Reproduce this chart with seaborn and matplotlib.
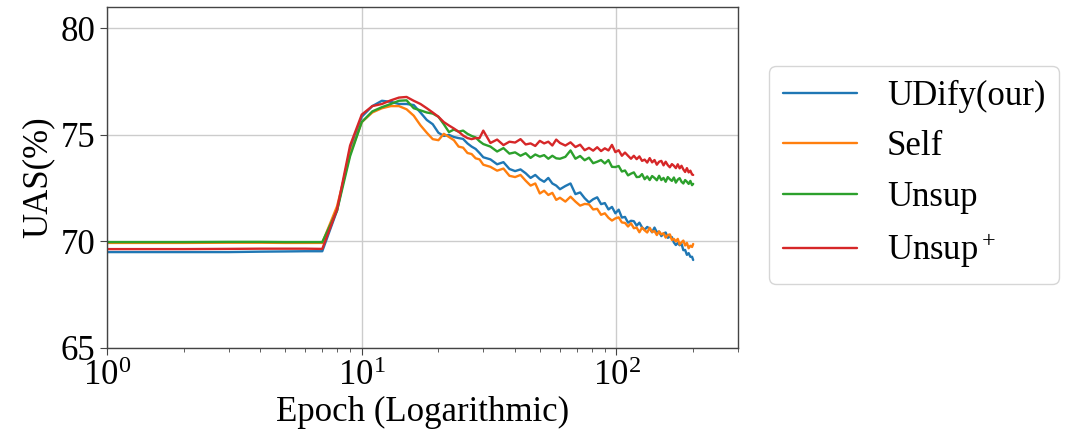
import pandas as pd
import matplotlib
matplotlib.use('Agg')
import matplotlib.pyplot as plt
import seaborn as sns


epochs = list(range(1, 31)) + list(range(32, 61, 2)) + list(range(63, 199, 3)) + [200]

udify = [69.50, 69.50, 69.50, 69.52, 69.53, 69.54, 69.54, 71.45, 74.30, 75.85,
         76.35, 76.60, 76.55, 76.45, 76.45, 76.40, 76.05, 75.70, 75.50, 75.10,
         74.95, 75.00, 74.90, 74.85, 74.81, 74.60, 74.45, 74.34, 74.15, 73.95,
         73.85, 73.62, 73.72, 73.40, 73.30, 73.38, 73.20, 72.98, 73.12, 72.92,
         72.80, 72.98, 72.72, 72.62, 72.45,
         72.60, 72.72, 72.22, 72.30, 72.03, 71.83, 71.98, 72.07, 71.75, 71.80,
         71.50, 71.62, 71.32, 71.49, 71.12, 71.15, 70.88, 70.97, 70.95, 70.74,
         70.88, 70.66, 70.55, 70.68, 70.60, 70.43, 70.65, 70.43, 70.46, 70.25,
         70.37, 70.42, 70.17, 70.22, 70.20, 69.95, 69.83, 69.93, 69.82, 69.89,
         69.59, 69.60, 69.37, 69.45, 69.28, 69.28, 69.13]

self_ = [69.93, 69.93, 69.94, 69.94, 69.93, 69.93, 69.93, 71.65, 74.10, 75.60,
         76.05, 76.25, 76.35, 76.35, 76.20, 75.90, 75.45, 75.10, 74.80, 74.75,
         75.05, 74.90, 74.75, 74.45, 74.40, 74.15, 74.10, 73.90, 73.85, 73.60,
         73.50, 73.32, 73.42, 73.08, 73.02, 73.12, 72.85, 72.62, 72.72, 72.25,
         72.38, 72.18, 72.28, 71.95, 72.05,
         71.87, 72.10, 71.87, 71.68, 71.76, 71.74, 71.50, 71.53, 71.25, 71.32,
         71.11, 70.98, 71.08, 71.13, 70.89, 70.87, 70.70, 70.85, 70.62, 70.65,
         70.43, 70.65, 70.52, 70.42, 70.64, 70.44, 70.49, 70.30, 70.47, 70.33,
         70.38, 70.18, 70.30, 70.33, 70.07, 70.12, 70.00, 70.12, 69.85, 69.96,
         70.04, 69.81, 69.93, 69.68, 69.80, 69.74, 69.88]

unsup = [69.97, 69.97, 69.98, 69.98, 69.97, 69.97, 69.97, 71.45, 74.00, 75.60,
         76.10, 76.30, 76.45, 76.60, 76.62, 76.25, 76.15, 76.05, 76.00, 75.85,
         75.50, 75.13, 75.25, 75.15, 75.20, 75.05, 74.95, 74.88, 74.70, 74.57,
         74.45, 74.22, 74.38, 74.12, 74.18, 74.02, 74.14, 73.92, 74.08, 73.98,
         74.05, 73.88, 74.02, 73.90, 73.88,
         73.97, 74.27, 73.88, 74.01, 73.81, 73.93, 73.67, 73.74, 73.82, 73.66,
         73.82, 73.50, 73.49, 73.54, 73.28, 73.33, 73.10, 73.18, 73.24, 73.02,
         73.03, 73.16, 72.92, 73.05, 72.88, 73.07, 72.98, 72.87, 73.08, 72.88,
         72.98, 72.80, 73.02, 72.92, 72.84, 73.00, 72.76, 72.90, 72.97, 72.80,
         72.72, 72.88, 72.80, 72.70, 72.84, 72.64, 72.70]

unsup_plus = [69.64, 69.64, 69.65, 69.66, 69.66, 69.66, 69.65, 71.50, 74.50, 75.95,
              76.35, 76.45, 76.62, 76.75, 76.78, 76.60, 76.45, 76.25, 76.05, 75.85,
              75.60, 75.44, 75.30, 75.15, 74.97, 74.85, 74.80, 74.85, 74.85, 75.20,
              74.62, 74.78, 74.52, 74.68, 74.64, 74.80, 74.55, 74.60, 74.48, 74.72,
              74.60, 74.68, 74.50, 74.78, 74.62,
              74.50, 74.65, 74.43, 74.54, 74.28, 74.39, 74.26, 74.42, 74.24, 74.37,
              74.27, 74.53, 74.19, 74.28, 74.02, 74.17, 74.02, 73.88, 74.02, 73.86,
              73.99, 73.78, 73.84, 73.70, 73.91, 73.71, 73.82, 73.60, 73.74, 73.78,
              73.57, 73.74, 73.58, 73.48, 73.63, 73.55, 73.44, 73.62, 73.43, 73.55,
              73.38, 73.26, 73.44, 73.24, 73.32, 73.14, 73.12]

names = ['UDify(our)', 'Self', 'Unsup', 'Unsup$^+$']
series = [udify, self_, unsup, unsup_plus]

rows = []
for name, vals in zip(names, series):
    for e, v in zip(epochs, vals):
        rows.append({'epoch': e, 'uas': v, 'model': name})
df = pd.DataFrame(rows)

sns.set_style('ticks')
plt.rcParams['font.family'] = ['Liberation Serif', 'DejaVu Serif']
plt.rcParams['mathtext.fontset'] = 'custom'
plt.rcParams['mathtext.rm'] = 'Liberation Serif'
plt.rcParams['mathtext.it'] = 'Liberation Serif:italic'
plt.rcParams['text.color'] = 'black'
plt.rcParams['axes.labelcolor'] = 'black'

fig = plt.figure(figsize=(10.71, 4.38), dpi=100)
ax = fig.add_axes([0.0999, 0.2055, 0.5892, 0.7785])

sns.lineplot(data=df, x='epoch', y='uas', hue='model', hue_order=names,
             palette='tab10', estimator=None, linewidth=1.7, legend=False, ax=ax)

ax.set_xscale('log')
ax.set_xlim(1, 300)
ax.set_ylim(65, 81)
ax.set_yticks([65, 70, 75, 80])
ax.grid(True, which='major', color='#cccccc', linewidth=1)
ax.set_axisbelow(True)
for s in ax.spines.values():
    s.set_color('#444444')
    s.set_linewidth(1.0)
ax.tick_params(axis='both', which='major', labelsize=25, colors='#444444',
               labelcolor='black', length=5)
ax.tick_params(axis='x', which='minor', colors='#444444', length=3)
ax.set_xlabel('Epoch (Logarithmic)', fontsize=25, labelpad=2)
ax.set_ylabel('UAS(%)', fontsize=25, labelpad=4)

ax.legend(ax.get_lines()[:4], names, loc='upper left', bbox_to_anchor=(1.049, 0.827),
          borderaxespad=0, fontsize=25, handlelength=2.15, handletextpad=0.85,
          frameon=True, fancybox=True)

fig.savefig('out.png', dpi=100)
